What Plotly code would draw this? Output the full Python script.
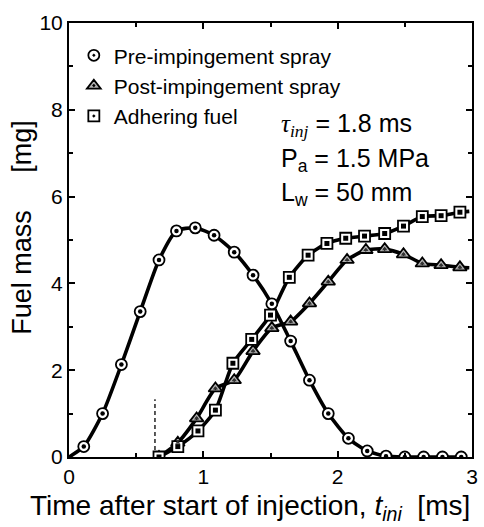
import plotly.graph_objects as go

# ---- data ----
t_pre = [0.11, 0.25, 0.39, 0.53, 0.67, 0.80, 0.94, 1.08, 1.23, 1.37, 1.51,
         1.65, 1.79, 1.93, 2.08, 2.22, 2.36, 2.50, 2.64, 2.78, 2.92]
m_pre = [0.24, 1.00, 2.13, 3.35, 4.54, 5.21, 5.28, 5.11, 4.72, 4.19, 3.53,
         2.67, 1.77, 1.00, 0.43, 0.14, 0.02, 0.00, 0.00, 0.00, 0.00]
t_pre_start = [0.0]
m_pre_start = [0.0]

t_post = [0.67, 0.81, 0.95, 1.09, 1.23, 1.37, 1.51, 1.65, 1.79, 1.93,
          2.07, 2.21, 2.35, 2.49, 2.63, 2.77, 2.91]
m_post = [0.00, 0.33, 0.89, 1.58, 1.77, 2.44, 2.97, 3.12, 3.54, 4.04,
          4.54, 4.77, 4.79, 4.67, 4.46, 4.42, 4.37]

t_adh = [0.67, 0.81, 0.96, 1.09, 1.22, 1.36, 1.50, 1.64, 1.78, 1.92,
         2.06, 2.20, 2.35, 2.49, 2.63, 2.77, 2.91]
m_adh = [0.00, 0.24, 0.60, 1.08, 2.16, 2.71, 3.27, 4.14, 4.65, 4.92,
         5.04, 5.09, 5.15, 5.32, 5.54, 5.56, 5.64]

t_end = [2.98]
m_post_end = [4.36]
m_adh_end = [5.66]

impinge_t = [0.64, 0.64]
impinge_m = [0.0, 1.33]

names = ["Pre\u2011impingement spray", "Post\u2011impingement spray", "Adhering fuel"]
x_ticks = [0, 1, 2, 3]
y_ticks = [0, 2, 4, 6, 8, 10]

FONT = "Liberation Sans, Arial, sans-serif"

fig = go.Figure()

line_style = dict(color="black", width=3.6, shape="spline", smoothing=0.6)

# curves
fig.add_trace(go.Scatter(x=t_pre_start + t_pre, y=m_pre_start + m_pre, mode="lines",
                         line=line_style, showlegend=False, hoverinfo="skip"))
fig.add_trace(go.Scatter(x=t_post + t_end, y=m_post + m_post_end, mode="lines",
                         line=line_style, showlegend=False, hoverinfo="skip"))
fig.add_trace(go.Scatter(x=t_adh + t_end, y=m_adh + m_adh_end, mode="lines",
                         line=line_style, showlegend=False, hoverinfo="skip"))

# impingement onset dashed line
fig.add_trace(go.Scatter(x=impinge_t, y=impinge_m, mode="lines",
                         line=dict(color="black", width=1.3, dash="4px,3px"),
                         showlegend=False, hoverinfo="skip"))

# markers (outer symbols, shown in legend)
fig.add_trace(go.Scatter(x=t_pre, y=m_pre, mode="markers", name=names[0], legendgroup="a",
                         marker=dict(symbol="circle-dot", size=11, color="white",
                                     line=dict(color="black", width=1.8))))
fig.add_trace(go.Scatter(x=t_post, y=m_post, mode="markers", name=names[1], legendgroup="b",
                         marker=dict(symbol="triangle-up-dot", size=12, color="#b0b0b0",
                                     line=dict(color="black", width=1.8))))
fig.add_trace(go.Scatter(x=t_adh, y=m_adh, mode="markers", name=names[2], legendgroup="c",
                         marker=dict(symbol="square-dot", size=11, color="white",
                                     line=dict(color="black", width=1.8))))

# inner dark dots
fig.add_trace(go.Scatter(x=t_pre, y=m_pre, mode="markers", legendgroup="a", showlegend=False,
                         hoverinfo="skip", marker=dict(symbol="circle", size=4.5, color="black")))
fig.add_trace(go.Scatter(x=t_post, y=m_post, mode="markers", legendgroup="b", showlegend=False,
                         hoverinfo="skip",
                         marker=dict(symbol="triangle-up", size=4.5, color="#333333")))
fig.add_trace(go.Scatter(x=t_adh, y=m_adh, mode="markers", legendgroup="c", showlegend=False,
                         hoverinfo="skip", marker=dict(symbol="square", size=5, color="black")))

# parameter annotations
ann_font = dict(family=FONT, size=25, color="black")
fig.add_annotation(x=1.56, y=7.65, xref="x", yref="y", xanchor="left", yanchor="middle",
                   showarrow=False, font=ann_font,
                   text="<span style=\"font-family:'Liberation Serif',serif\"><i>τ</i><sub><i>inj</i></sub></span> = 1.8 ms")
fig.add_annotation(x=1.56, y=6.84, xref="x", yref="y", xanchor="left", yanchor="middle",
                   showarrow=False, font=ann_font, text="P<sub>a</sub> = 1.5 MPa")
fig.add_annotation(x=1.56, y=6.06, xref="x", yref="y", xanchor="left", yanchor="middle",
                   showarrow=False, font=ann_font, text="L<sub>w</sub> = 50 mm")

# axis titles as annotations (placed as in the reference)
fig.add_annotation(x=0.45, y=-0.117, xref="paper", yref="paper", xanchor="center",
                   yanchor="middle", showarrow=False,
                   font=dict(family=FONT, size=28, color="black"),
                   text="Time after start of injection, <i>t<sub>ini</sub></i>  [ms]")
fig.add_annotation(x=-0.117, y=0.53, xref="paper", yref="paper", xanchor="center",
                   yanchor="middle", showarrow=False, textangle=-90,
                   font=dict(family=FONT, size=27, color="black"),
                   text="Fuel mass\u00a0\u00a0\u00a0\u00a0\u00a0[mg]")

axis_common = dict(showline=True, linecolor="black", linewidth=2, mirror="ticks",
                   ticks="inside", ticklen=6, tickwidth=1.5, tickcolor="black",
                   showgrid=False, zeroline=False,
                   tickfont=dict(family=FONT, size=21, color="black"))

fig.update_xaxes(range=[0, 3], tickvals=x_ticks, ticktext=[str(v) for v in x_ticks],
                 minor=dict(dtick=0.5, ticks="inside", ticklen=4, tickcolor="black"),
                 **axis_common)
fig.update_yaxes(range=[0, 10], tickvals=y_ticks, ticktext=[str(v) for v in y_ticks],
                 minor=dict(dtick=1, ticks="inside", ticklen=4, tickcolor="black"),
                 **axis_common)

fig.update_layout(
    width=484, height=527,
    margin=dict(l=69, r=6, t=23, b=70),
    paper_bgcolor="white", plot_bgcolor="white",
    font=dict(family=FONT, color="black"),
    legend=dict(x=0.012, y=0.972, xanchor="left", yanchor="top",
                bgcolor="rgba(0,0,0,0)", font=dict(family=FONT, size=21, color="black"),
                itemwidth=30, tracegroupgap=0),
    showlegend=True,
)

fig.write_html("out.html")
